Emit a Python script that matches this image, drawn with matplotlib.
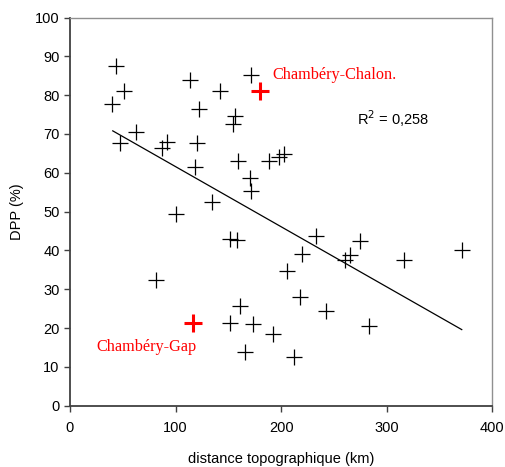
import matplotlib
matplotlib.use('Agg')
import matplotlib.pyplot as plt

# distance topographique (km) et DPP (%) des liaisons
distance = [43.6, 51.5, 40.1, 62.6, 47.4, 86.9, 91.6, 113.7, 122.3, 120.6,
            118.5, 142.5, 171.7, 156.4, 154.2, 158.9, 188.5, 198.4, 202.2, 170.4,
            171.7, 134.7, 100.5, 151.5, 158.0, 81.5, 161.2, 151.7, 173.3, 192.2,
            165.9, 233.2, 274.9, 219.6, 265.4, 260.0, 315.9, 371.3, 205.4, 218.0,
            242.4, 282.8, 211.7]
dpp = [87.6, 81.1, 77.8, 70.6, 67.8, 66.5, 68.0, 83.8, 76.5, 67.8,
       61.5, 81.0, 85.3, 74.7, 72.6, 63.1, 63.1, 64.0, 64.8, 58.7,
       55.2, 52.5, 49.5, 42.9, 42.6, 32.5, 25.7, 21.4, 21.1, 18.4,
       13.8, 43.7, 42.4, 39.2, 38.9, 37.6, 37.5, 40.0, 34.8, 28.0,
       24.3, 20.6, 12.6]

# liaisons mises en evidence
noms_rouges = ['Chambéry-Gap', 'Chambéry-Chalon.']
dist_rouges = [116.3, 180.0]
dpp_rouges = [21.4, 81.0]

# droite de tendance
tendance_x = [40.5, 371.0]
tendance_y = [70.8, 19.6]

plt.rcParams['font.family'] = ['Liberation Sans', 'DejaVu Sans']

fig = plt.figure(figsize=(5.05, 4.67), dpi=100)
ax = fig.add_axes([0.1386, 0.1313, 0.8364, 0.8312])

ax.plot(distance, dpp, linestyle='none', marker='+', color='black',
        markersize=11, markeredgewidth=0.9)
ax.plot(tendance_x, tendance_y, color='black', linewidth=0.9)
ax.plot(dist_rouges, dpp_rouges, linestyle='none', marker='+', color='red',
        markersize=13, markeredgewidth=2.2)

ax.text(72.7, 15.2, noms_rouges[0], color='red', family='Liberation Serif',
        fontsize=11.7, ha='center', va='center')
ax.text(192.1, 85.3, noms_rouges[1], color='red', family='Liberation Serif',
        fontsize=11.7, ha='left', va='center')
ax.text(271.8, 73.9, 'R$^2$ = 0,258', fontsize=10.5, ha='left', va='center')

ax.set_xlim(0, 400)
ax.set_ylim(0, 100)
ax.set_xticks([0, 100, 200, 300, 400])
ax.set_yticks(range(0, 101, 10))
ax.tick_params(direction='out', length=4, width=1, labelsize=10.5, color='#404040')
ax.tick_params(axis='x', pad=7)
ax.set_xlabel('distance topographique (km)', fontsize=10.5, labelpad=12)
ax.set_ylabel('DPP (%)', fontsize=10.5, labelpad=8)

for s in ['left', 'bottom']:
    ax.spines[s].set_color('#404040')
    ax.spines[s].set_linewidth(1.3)
for s in ['top', 'right']:
    ax.spines[s].set_color('#909090')
    ax.spines[s].set_linewidth(1.0)

fig.savefig('out.png', dpi=100)
